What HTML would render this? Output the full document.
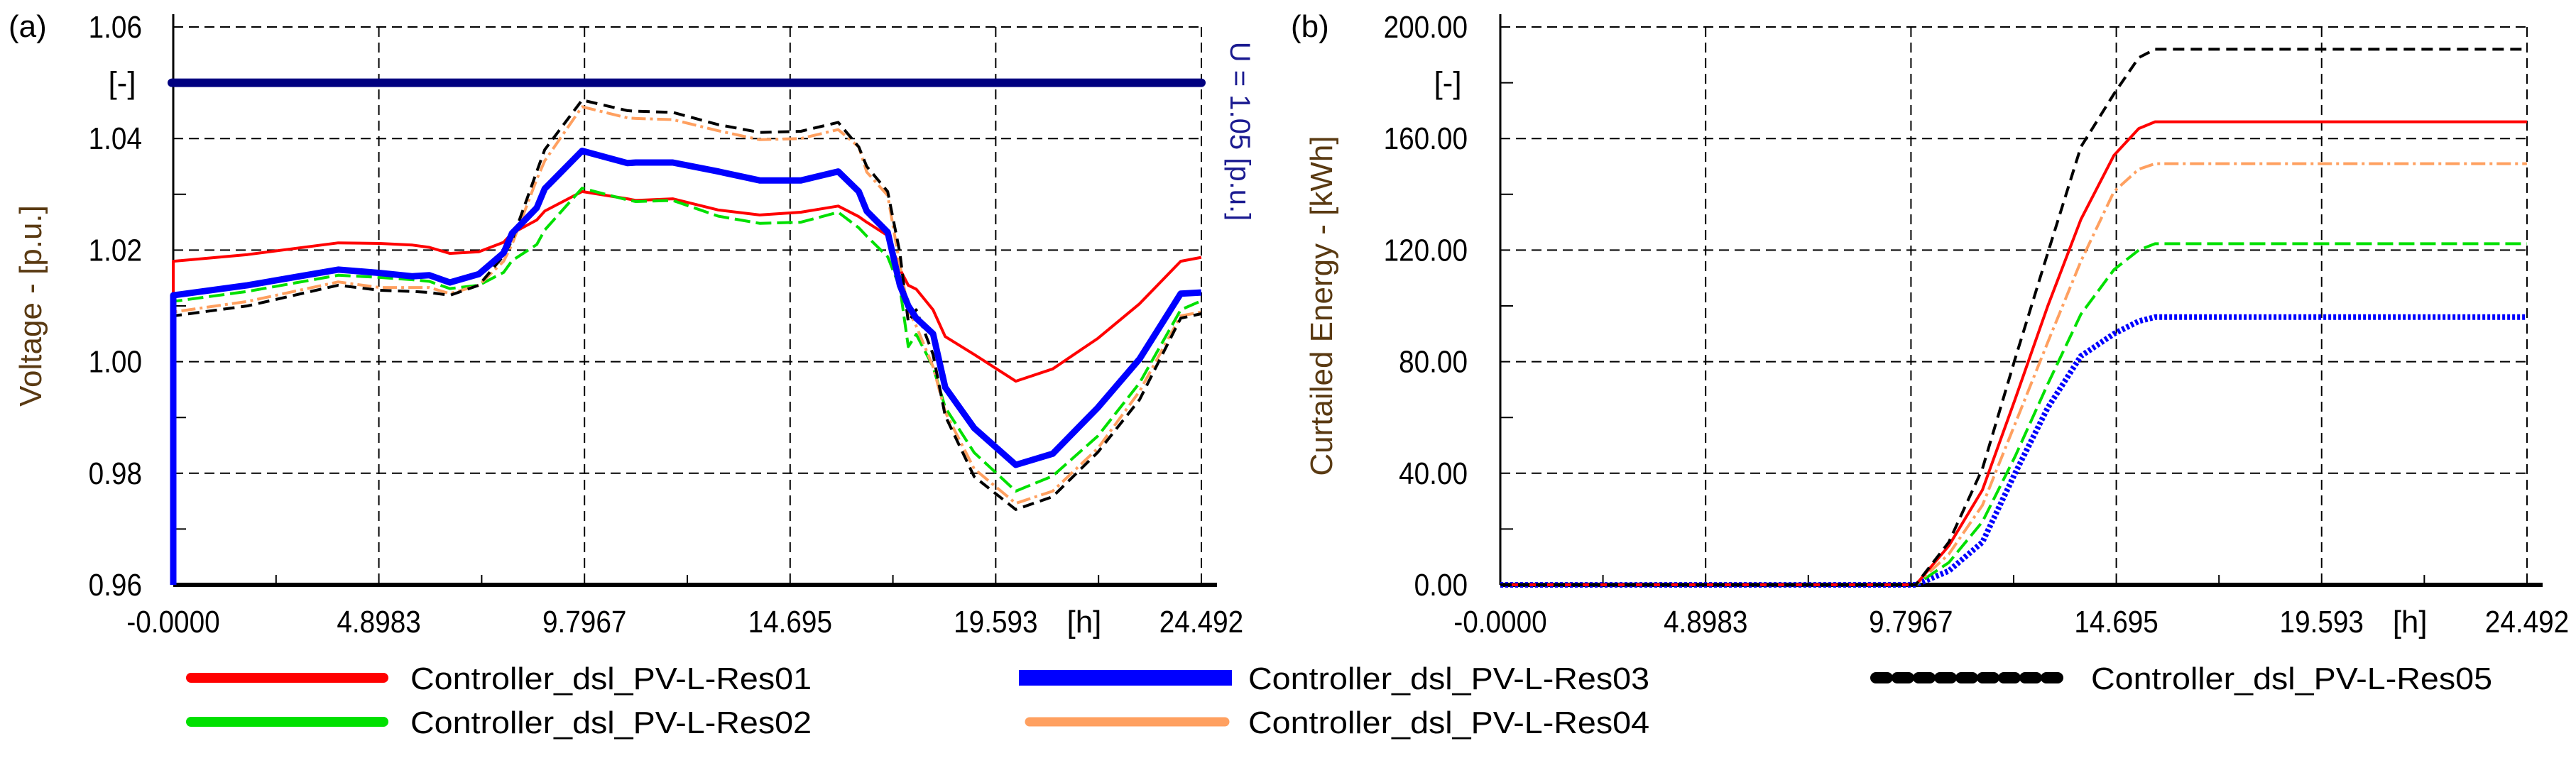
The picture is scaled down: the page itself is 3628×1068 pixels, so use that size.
<!DOCTYPE html>
<html><head><meta charset="utf-8"><style>
html,body{margin:0;padding:0;background:#fff;}
svg{display:block;font-family:"Liberation Sans",sans-serif;}
</style></head><body>
<svg id="fig" width="3628" height="1068" viewBox="0 0 3628 1068" xmlns="http://www.w3.org/2000/svg">
<g id="ga"></g>
<g id="gb"></g>
<g id="legend"></g>
</svg>
<script>
const xTickLabels = ["-0.0000","4.8983","9.7967","14.695","19.593","24.492"];
const xTickValues = [0,4.8983,9.7967,14.695,19.593,24.492];
const aTickValues = [1.06,1.04,1.02,1.00,0.98,0.96];
const aTickLabels = ["1.06","1.04","1.02","1.00","0.98","0.96"];
const bTickValues = [200,160,120,80,40,0];
const bTickLabels = ["200.00","160.00","120.00","80.00","40.00","0.00"];
const limitValue = 1.05;

const aT = [0,0,1.77,3.93,4.92,5.70,6.10,6.59,7.28,7.87,8.07,8.66,8.85,9.74,10.82,11.02,11.90,12.98,13.97,14.95,15.84,16.33,16.52,17.02,17.31,17.51,17.70,18.10,18.39,19.08,20.07,20.95,22.03,23.02,24.0,24.49];
const vRes01 = [0.96,1.018,1.0192,1.0213,1.0212,1.0209,1.0205,1.0194,1.0197,1.0214,1.023,1.0254,1.027,1.0305,1.0292,1.0289,1.0292,1.0272,1.0263,1.0268,1.0279,1.026,1.025,1.0226,1.0166,1.0137,1.013,1.0093,1.0045,1.0013,0.9965,0.9987,1.0042,1.0104,1.018,1.0187];
const vRes02 = [0.96,1.0108,1.0126,1.0155,1.0151,1.0147,1.0144,1.0131,1.0137,1.016,1.0181,1.021,1.0236,1.0311,1.029,1.0287,1.0289,1.0261,1.0248,1.025,1.0268,1.024,1.0225,1.0188,1.0133,1.0027,1.0049,0.9991,0.9918,0.9837,0.9768,0.9795,0.9867,0.9962,1.0093,1.0109];
const vRes03 = [0.96,1.0119,1.0137,1.0165,1.0159,1.0153,1.0155,1.0142,1.0157,1.0195,1.023,1.0276,1.031,1.0378,1.0356,1.0357,1.0357,1.0341,1.0325,1.0325,1.0341,1.0305,1.027,1.0232,1.0137,1.01,1.0078,1.005,0.9954,0.9881,0.9815,0.9835,0.9918,1.0005,1.0122,1.0124];
const vRes04 = [0.96,1.0089,1.0108,1.0143,1.0133,1.0133,1.0133,1.0122,1.0137,1.018,1.021,1.0327,1.036,1.0457,1.0437,1.0436,1.0434,1.0414,1.0398,1.04,1.0416,1.0385,1.034,1.0298,1.0173,1.0093,1.0064,0.9991,0.991,0.9808,0.9746,0.9768,0.9845,0.9947,1.0082,1.0089];
const vRes05 = [0.96,1.0082,1.01,1.0137,1.0128,1.0126,1.0124,1.0119,1.0137,1.019,1.0217,1.0341,1.038,1.0469,1.045,1.0449,1.0447,1.0425,1.0411,1.0413,1.0429,1.0385,1.035,1.0305,1.0195,1.0071,1.0093,1.0013,0.9903,0.9794,0.9735,0.9758,0.9838,0.9932,1.0078,1.0086];

const bT = [0,9.91,10.70,11.50,12.28,13.06,13.85,14.64,15.23,15.62,24.49];
const eRes01 = [0,0,14,34,66.5,100,131,154,163.6,166,166];
const eRes02 = [0,0,8,22.6,46,72,97,113,120,122.3,122.3];
const eRes03 = [0,0,5,15.3,40,63.5,82,90,94.5,96,96];
const eRes04 = [0,0,11,28.5,57.7,87,116,141,149,151,151];
const eRes05 = [0,0,15.3,41.6,81,119,157,176,189,192,192];

const NS="http://www.w3.org/2000/svg";
function mk(parent,tag,attrs,text){const e=document.createElementNS(NS,tag);for(const k in attrs)e.setAttribute(k,attrs[k]);if(text!==undefined)e.textContent=text;parent.appendChild(e);return e;}

const styles = {
 r1:{stroke:"#ff0000",w:4,dash:""},
 r2:{stroke:"#00e000",w:4,dash:"22 8"},
 r3:{stroke:"#0000ff",w:9,dash:""},
 r4:{stroke:"#ffa060",w:4,dash:"20 6 4 6"},
 r5:{stroke:"#000000",w:4,dash:"16 9"}
};

function drawChart(g,cfg){
 const x0=cfg.x0,x1=cfg.x1,yT=38,yB=824;
 const sx=v=>x0+(v-0)/(24.492)*(x1-x0);
 const sy=v=>yB-(v-cfg.min)/(cfg.max-cfg.min)*(yB-yT);
 cfg.ticks.forEach((v,i)=>{
  if(v!==cfg.min){const l=mk(g,"line",{x1:x0,x2:x1,y1:sy(v),y2:sy(v),stroke:"#000","stroke-width":2,"stroke-dasharray":"14 8"});
  
  }
  const t=mk(g,"text",{x:cfg.labelX,y:sy(v)+15,"font-size":44,"text-anchor":"end",fill:"#000",transform:`translate(${cfg.labelX},0) scale(0.88,1) translate(${-cfg.labelX},0)`},cfg.tickLabels[i]);
  
  
 });
 for(let i=0;i<cfg.ticks.length-1;i++){
  const mv=(cfg.ticks[i]+cfg.ticks[i+1])/2;
  const m=mk(g,"line",{x1:x0,x2:x0+18,y1:sy(mv),y2:sy(mv),stroke:"#000","stroke-width":2});
  
  
 }
 xTickValues.forEach((v,i)=>{
  if(v>0){const l=mk(g,"line",{x1:sx(v),x2:sx(v),y1:yT,y2:yB,stroke:"#000","stroke-width":2,"stroke-dasharray":"14 8"});
  
  }
  const t=mk(g,"text",{x:sx(v),y:891,"font-size":44,"text-anchor":"middle",fill:"#000",transform:`translate(${sx(v)},0) scale(0.88,1) translate(${-sx(v)},0)`},xTickLabels[i]);
  
  
  if(i<xTickValues.length-1){const mx=sx(v+2.4491);
   const m=mk(g,"line",{x1:mx,x2:mx,y1:yB,y2:yB-14,stroke:"#000","stroke-width":2});
   
   }
 });
 const hu=mk(g,"text",{x:sx(21.7),y:891,"font-size":44,"text-anchor":"middle",fill:"#000"},"[h]");
 
 
 const un=mk(g,"text",{x:cfg.labelX-28,y:sy(cfg.unitV)+15,"font-size":44,"text-anchor":"middle",fill:"#000"},"[-]");
 
 
 const ya=mk(g,"line",{x1:x0,x2:x0,y1:20,y2:yB,stroke:"#000","stroke-width":3});
 
 
 const xa=mk(g,"line",{x1:x0,x2:x1+22,y1:yB,y2:yB,stroke:"#000","stroke-width":6});
 
 
 const pl=mk(g,"text",{x:cfg.panelX,y:52,"font-size":44,fill:"#000"},cfg.panel);
 
 
 const tx=cfg.titleX,ty=431;
 const tt=mk(g,"text",{x:tx,y:ty,"font-size":44,"text-anchor":"middle",fill:"#5a3a12",transform:`rotate(-90 ${tx} ${ty})`},cfg.title);
 
 
 return {sx,sy};
}

function series(g,sc,xs,ys,st,name,cap){
 const d=xs.map((x,i)=>(i?"L":"M")+sc.sx(x).toFixed(1)+" "+sc.sy(ys[i]).toFixed(1)).join(" ");
 const p=mk(g,"path",{d:d,fill:"none",stroke:st.stroke,"stroke-width":st.w,"stroke-dasharray":st.dash,"stroke-linejoin":"round","stroke-linecap":cap||"butt"});
 
 
}

const ga=document.getElementById('ga');
const sa=drawChart(ga,{x0:244,x1:1692,min:0.96,max:1.06,ticks:aTickValues,tickLabels:aTickLabels,labelX:200,unitV:1.05,panel:"(a)",panelX:12,title:"Voltage - [p.u.]",titleX:58});
const lim=mk(ga,"line",{x1:242,x2:1692,y1:sa.sy(limitValue),y2:sa.sy(limitValue),stroke:"#000080","stroke-width":12,"stroke-linecap":"round"});


const lt=mk(ga,"text",{x:1733,y:185,"font-size":40,"text-anchor":"middle",fill:"#1a1a90",transform:"rotate(90 1733 185)"},"U = 1.05 [p.u.]");


series(ga,sa,aT,vRes01,styles.r1,'line-res01');
series(ga,sa,aT,vRes02,styles.r2,'line-res02');
series(ga,sa,aT,vRes04,styles.r4,'line-res04');
series(ga,sa,aT,vRes05,styles.r5,'line-res05');
series(ga,sa,aT,vRes03,styles.r3,'line-res03');

const gb=document.getElementById('gb');
const sb=drawChart(gb,{x0:2113,x1:3559,min:0,max:200,ticks:bTickValues,tickLabels:bTickLabels,labelX:2067,unitV:180,panel:"(b)",panelX:1818,title:"Curtailed Energy - [kWh]",titleX:1876});
series(gb,sb,bT,eRes03,{stroke:"#0000ff",w:8,dash:"4 3"},'energy-res03');
series(gb,sb,bT,eRes02,{stroke:"#00e000",w:4,dash:"22 8"},'energy-res02');
series(gb,sb,bT,eRes04,{stroke:"#ffa060",w:4,dash:"20 6 4 6"},'energy-res04');
series(gb,sb,bT,eRes01,{stroke:"#ff0000",w:4,dash:""},'energy-res01');
series(gb,sb,bT,eRes05,{stroke:"#000000",w:4,dash:"16 9"},'energy-res05');

const lg=document.getElementById('legend');
const legendNames=["Controller_dsl_PV-L-Res01","Controller_dsl_PV-L-Res02","Controller_dsl_PV-L-Res03","Controller_dsl_PV-L-Res04","Controller_dsl_PV-L-Res05"];
const legendPos=[[269,540,578,955],[269,540,578,1017],[1435,1735,1758,955],[1450,1725,1758,1017],[2642,2912,2945,955]];
const legendStyles=[{c:"#ff0000",w:14,d:"",cap:"round"},{c:"#00e000",w:14,d:"",cap:"round"},{c:"#0000ff",w:22,d:"",cap:"butt"},{c:"#ffa060",w:13,d:"",cap:"round"},{c:"#000000",w:16,d:"16 14",cap:"round"}];
legendNames.forEach((n,i)=>{
 const p=legendPos[i],s=legendStyles[i];
 const l=mk(lg,"line",{x1:p[0],x2:p[1],y1:p[3],y2:p[3],stroke:s.c,"stroke-width":s.w,"stroke-dasharray":s.d,"stroke-linecap":s.cap});
 
 
 const t=mk(lg,"text",{x:p[2],y:p[3]+16,"font-size":44,fill:"#000",textLength:565,lengthAdjust:"spacingAndGlyphs"},n);
 
 
});
</script>
</body></html>
